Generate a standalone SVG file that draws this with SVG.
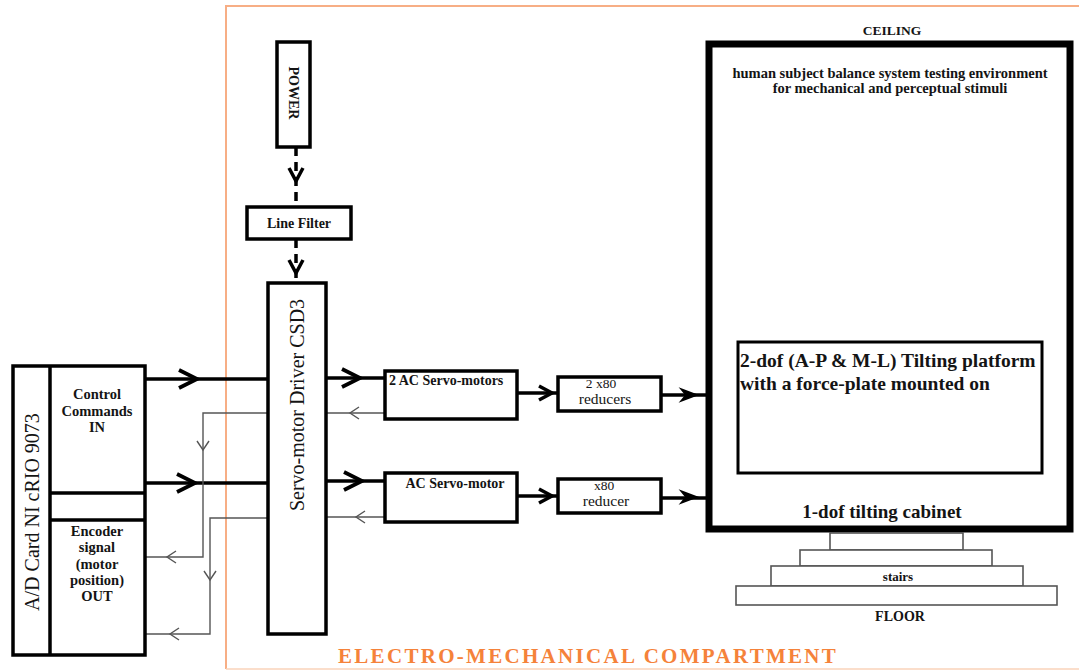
<svg xmlns="http://www.w3.org/2000/svg" width="1079" height="671" viewBox="0 0 1079 671">
<style>
.box{fill:#fff;stroke:#000;stroke-width:3.5}
.thin{fill:none;stroke:#555;stroke-width:1.4}
.thick{fill:none;stroke:#000;stroke-width:3.5}
.dash{fill:none;stroke:#000;stroke-width:3.5;stroke-dasharray:9 6}
.step{fill:#fff;stroke:#555;stroke-width:1.6}
.t{font-family:"Liberation Serif","Times New Roman",serif;fill:#141414}
.b{font-weight:bold}
.m{text-anchor:middle}
</style>
<defs>
<path id="chevBig" d="M-18,-9 L0,0 L-18,9" fill="none" stroke="#000" stroke-width="3.8"/>
<path id="chevMid" d="M-13,-7 L0,0 L-13,7" fill="none" stroke="#000" stroke-width="3.5"/>
<path id="chevFill" d="M-16,-6 L0,0 L-16,6 L-11,0 Z" fill="#000" stroke="#000" stroke-width="1.5"/>
<path id="chevThin" d="M-9,-6 L0,0 L-9,6" fill="none" stroke="#555" stroke-width="1.4"/>
</defs>
<rect width="1079" height="671" fill="#fff"/>
<!-- compartment frame -->
<path d="M226,669 L226,6 L1079,6" fill="none" stroke="#F7AE85" stroke-width="2"/>
<line x1="226" y1="669" x2="1079" y2="669" stroke="#FAD3BA" stroke-width="1.5"/>
<text class="t b" x="338" y="663" font-size="21" letter-spacing="2.3" style="fill:#F5823A">ELECTRO-MECHANICAL COMPARTMENT</text>

<g id="connectors">
<line class="dash" x1="296" y1="147" x2="296" y2="207"/>
<use href="#chevMid" transform="translate(296,181) rotate(90)"/>
<line class="dash" x1="296" y1="239" x2="296" y2="283"/>
<use href="#chevMid" transform="translate(296,273) rotate(90)"/>
<line class="thick" x1="145" y1="379" x2="268" y2="379"/>
<use href="#chevBig" transform="translate(197,379)"/>
<line class="thick" x1="145" y1="483" x2="268" y2="483"/>
<use href="#chevBig" transform="translate(195,483)"/>
<path class="thin" d="M268,413 H203 V557 H145"/>
<use href="#chevThin" transform="translate(203,450) rotate(90)"/>
<use href="#chevThin" transform="translate(167,557) rotate(180)"/>
<path class="thin" d="M268,518 H210 V634 H145"/>
<use href="#chevThin" transform="translate(210,580) rotate(90)"/>
<use href="#chevThin" transform="translate(170,634) rotate(180)"/>
<line class="thick" x1="326" y1="378" x2="385" y2="378"/>
<use href="#chevBig" transform="translate(360,378)"/>
<line class="thick" x1="326" y1="481" x2="385" y2="481"/>
<use href="#chevBig" transform="translate(362,481)"/>
<line class="thin" x1="385" y1="413" x2="326" y2="413"/>
<use href="#chevThin" transform="translate(350,413) rotate(180)"/>
<line class="thin" x1="385" y1="517" x2="326" y2="517"/>
<use href="#chevThin" transform="translate(356,517) rotate(180)"/>
<line class="thick" x1="517" y1="393" x2="558" y2="393"/>
<use href="#chevMid" transform="translate(552,393)"/>
<line class="thick" x1="517" y1="496" x2="558" y2="496"/>
<use href="#chevMid" transform="translate(552,496)"/>
<line class="thick" x1="661" y1="395" x2="738" y2="395"/>
<use href="#chevFill" transform="translate(697,395)"/>
<line class="thick" x1="661" y1="498" x2="709" y2="498"/>
<use href="#chevFill" transform="translate(697,497)"/>
</g>

<g id="card">
<rect class="box" x="13" y="366" width="132" height="289"/>
<line class="thick" x1="50" y1="366" x2="50" y2="655"/>
<line class="thick" x1="50" y1="493" x2="145" y2="493"/>
<line class="thick" x1="50" y1="520" x2="145" y2="520"/>
<text class="t m" font-size="20" transform="translate(39,512) rotate(-90)">A/D Card NI cRIO 9073</text>
<text class="t b m" font-size="14.5" x="97" y="399">Control</text>
<text class="t b m" font-size="14.5" x="97" y="416">Commands</text>
<text class="t b m" font-size="14.5" x="97" y="432">IN</text>
<text class="t b m" font-size="14.5" x="97" y="536">Encoder</text>
<text class="t b m" font-size="14.5" x="97" y="552">signal</text>
<text class="t b m" font-size="14.5" x="97" y="569">(motor</text>
<text class="t b m" font-size="14.5" x="97" y="585">position)</text>
<text class="t b m" font-size="14.5" x="97" y="601">OUT</text>
</g>

<g id="power">
<rect class="box" x="277" y="42" width="33" height="105"/>
<text class="t b m" font-size="14" transform="translate(289,93) rotate(90)">POWER</text>
</g>

<g id="linefilter">
<rect class="box" x="247" y="207" width="104" height="32"/>
<text class="t b m" font-size="14" x="299" y="228">Line Filter</text>
</g>

<g id="driver">
<rect class="box" x="268" y="283" width="58" height="351"/>
<text class="t m" font-size="20" transform="translate(304,405) rotate(-90)">Servo-motor Driver CSD3</text>
</g>

<g id="servo2">
<rect class="box" x="385" y="371" width="132" height="48"/>
<text class="t b" font-size="14" x="389" y="385">2 AC Servo-motors</text>
</g>

<g id="servo1">
<rect class="box" x="385" y="473" width="132" height="49"/>
<text class="t b m" font-size="14" x="455" y="488">AC Servo-motor</text>
</g>

<g id="reducer2">
<rect class="box" x="558" y="377" width="103" height="34"/>
<text class="t m" font-size="13.5" x="601" y="388">2 x80</text>
<text class="t m" font-size="15.5" x="605" y="404">reducers</text>
</g>

<g id="reducer1">
<rect class="box" x="558" y="479" width="103" height="34"/>
<text class="t m" font-size="13.5" x="604" y="490">x80</text>
<text class="t m" font-size="15.5" x="606" y="506">reducer</text>
</g>

<g id="cabinet">
<text class="t b m" font-size="13.5" x="892" y="35">CEILING</text>
<rect x="709" y="44" width="361" height="485" fill="#fff" stroke="#000" stroke-width="7"/>
<text class="t b m" font-size="14.5" x="890" y="78">human subject balance system testing environment</text>
<text class="t b m" font-size="14.5" x="890" y="93">for mechanical and perceptual stimuli</text>
<text class="t b m" font-size="19" x="882" y="518">1-dof tilting cabinet</text>
</g>

<g id="platform">
<rect x="738" y="342" width="304" height="131" fill="#fff" stroke="#000" stroke-width="3"/>
<text class="t b" font-size="19.5" x="740" y="367">2-dof (A-P &amp; M-L) Tilting platform</text>
<text class="t b" font-size="19.5" x="740" y="390">with a force-plate mounted on</text>
</g>

<g id="stairs">
<rect class="step" x="830" y="533" width="133" height="17"/>
<rect class="step" x="800" y="550" width="192" height="16"/>
<rect class="step" x="771" y="566" width="252" height="20"/>
<rect class="step" x="736" y="586" width="321" height="19"/>
<text class="t b m" font-size="13" x="898" y="581">stairs</text>
<text class="t b m" font-size="14" x="900" y="621">FLOOR</text>
</g>
</svg>
